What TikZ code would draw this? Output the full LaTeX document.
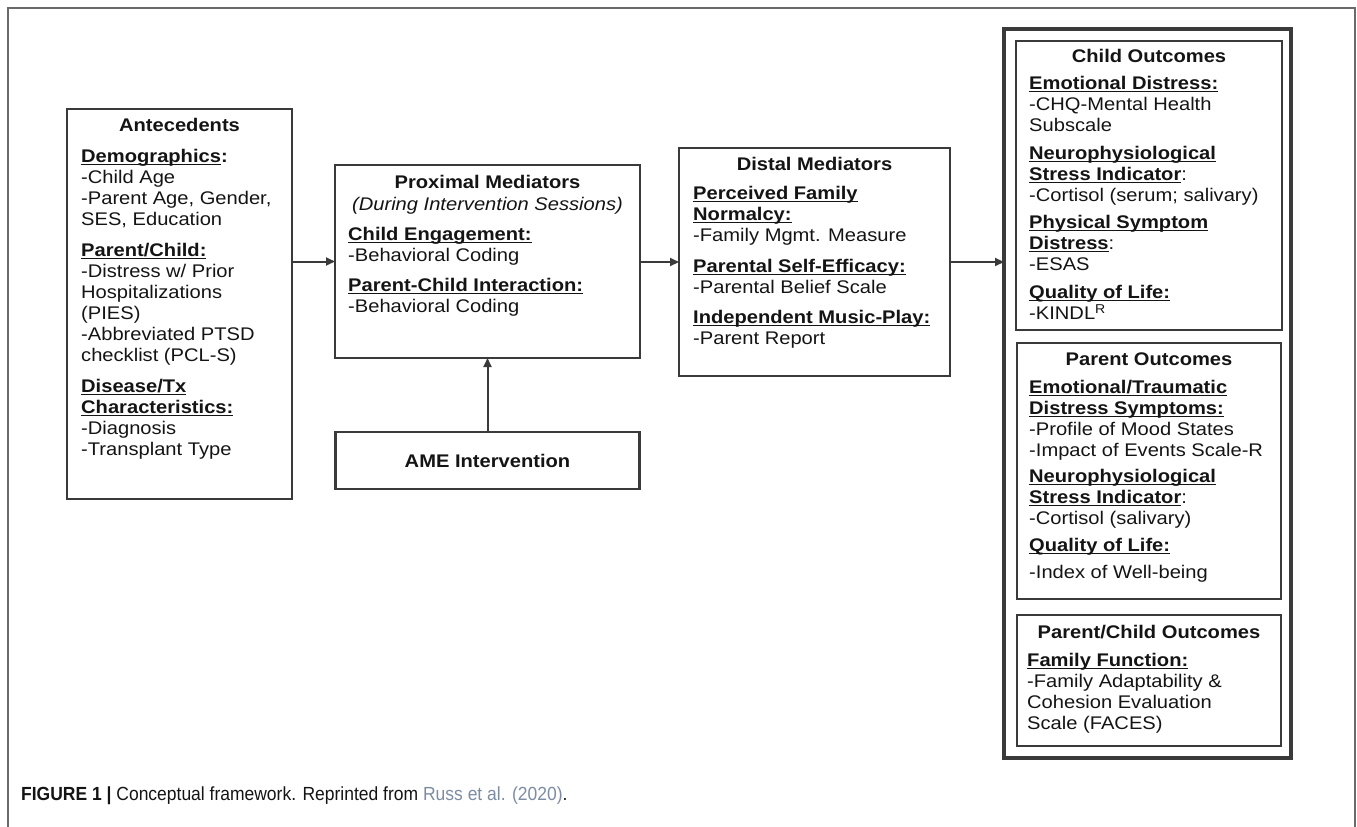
\documentclass[tikz,border=0pt]{standalone}
\usepackage{fontspec}
\setmainfont{Liberation Sans}
\newfontfamily\dfont[FakeStretch=1.1]{Liberation Sans}
\newfontfamily\capfont[FakeStretch=0.92]{Liberation Sans}
\usetikzlibrary{arrows.meta}
\definecolor{ln}{HTML}{3A3A3A}
\definecolor{tx}{HTML}{141414}
\definecolor{fr}{HTML}{6A6A6A}
\definecolor{linkc}{HTML}{7D8CA3}
\newcommand\hd[1]{\setbox0\hbox{\bfseries #1}\rlap{\color{tx}\rule[-3.4pt]{\wd0}{1.5pt}}\box0}
\newcommand\blk[1]{\begin{tabular}[t]{@{}l@{}}#1\end{tabular}}
\tikzset{
  boxst/.style={draw=ln, line width=2.6pt, inner sep=0pt, outer sep=0pt, rectangle},
  oboxst/.style={draw=ln, line width=3.6pt, inner sep=0pt, outer sep=0pt, rectangle},
  ttlst/.style={anchor=base, inner sep=0pt, text=tx, font=\dfont\bfseries\fontsize{18.3}{21}\selectfont},
  subst/.style={anchor=base, inner sep=0pt, text=tx, font=\dfont\itshape\fontsize{18.3}{21}\selectfont},
  bodyst/.style={anchor=base west, inner sep=0pt, text=tx, font=\dfont\fontsize{18.3}{21}\selectfont},
  arrst/.style={draw=ln, line width=2pt, -{Triangle[length=9pt,width=8pt]}},
  framest/.style={draw=fr, line width=1.5pt},
  capst/.style={anchor=base west, inner sep=0pt, text=tx, font=\capfont\fontsize{19}{22}\selectfont}
}
\begin{document}
\begin{tikzpicture}[x=1pt,y=-1pt]
\useasboundingbox (0,0) rectangle (1357,827);
% outer frame
\draw[framest] (8,827) -- (8,8) -- (1355,8) -- (1355,827);

% boxes
\node[boxst, minimum width=225pt, minimum height=390pt] (ante) at (179.5,304) {};
\node[boxst, minimum width=305pt, minimum height=193pt] (prox) at (487.5,261.5) {};
\node[boxst, minimum width=304pt, minimum height=57pt, text=tx, font=\dfont\bfseries\fontsize{18.3}{21}\selectfont] (ame) at (487.5,460.5) {AME Intervention};
\node[boxst, minimum width=271pt, minimum height=228pt] (dist) at (814.5,262) {};
\node[oboxst, minimum width=287pt, minimum height=729pt] (outc) at (1147.5,393.5) {};
\node[boxst, minimum width=266pt, minimum height=289pt] (child) at (1149,185.5) {};
\node[boxst, minimum width=264pt, minimum height=256pt] (par) at (1149,471) {};
\node[boxst, minimum width=264pt, minimum height=131pt] (pc) at (1149,680.5) {};

% Antecedents
\node[ttlst] (anteT) at (179.5,131) {Antecedents};
\node[bodyst] (anteB) at (81,162) {\blk{\hd{Demographics}\textbf{:}\\ -Child Age\\ -Parent Age, Gender,\\ SES, Education\\[10pt]
\hd{Parent/Child:}\\ -Distress w/ Prior\\ Hospitalizations\\ (PIES)\\ -Abbreviated PTSD\\ checklist (PCL-S)\\[10pt]
\hd{Disease/Tx}\\ \hd{Characteristics:}\\ -Diagnosis\\ -Transplant Type}};

% Proximal
\node[ttlst] (proxT) at (487.5,188) {Proximal Mediators};
\node[subst] (proxS) at (487.5,210) {(During Intervention Sessions)};
\node[bodyst] (proxB) at (348,240) {\blk{\hd{Child Engagement:}\\ -Behavioral Coding\\[9pt]
\hd{Parent-Child Interaction:}\\ -Behavioral Coding}};

% Distal
\node[ttlst] (distT) at (814.5,170) {Distal Mediators};
\node[bodyst] (distB) at (693,199) {\blk{\hd{Perceived Family}\\ \hd{Normalcy:}\\ -Family Mgmt. Measure\\[10pt]
\hd{Parental Self-Efficacy:}\\ -Parental Belief Scale\\[9pt]
\hd{Independent Music-Play:}\\ -Parent Report}};

% Child outcomes
\node[ttlst] (childT) at (1149,62) {Child Outcomes};
\node[bodyst] (childB) at (1029,89) {\blk{\hd{Emotional Distress:}\\ -CHQ-Mental Health\\ Subscale\\[7pt]
\hd{Neurophysiological}\\ \hd{Stress Indicator}:\\ -Cortisol (serum; salivary)\\[6pt]
\hd{Physical Symptom}\\ \hd{Distress}:\\ -ESAS\\[7pt]
\hd{Quality of Life:}\\ -KINDL\textsuperscript{R}}};

% Parent outcomes
\node[ttlst] (parT) at (1149,365) {Parent Outcomes};
\node[bodyst] (parB) at (1029,393) {\blk{\hd{Emotional/Traumatic}\\ \hd{Distress Symptoms:}\\ -Profile of Mood States\\ -Impact of Events Scale-R\\[5pt]
\hd{Neurophysiological}\\ \hd{Stress Indicator}:\\ -Cortisol (salivary)\\[6pt]
\hd{Quality of Life:}\\[6pt] -Index of Well-being}};

% Parent/Child outcomes
\node[ttlst] (pcT) at (1149,638) {Parent/Child Outcomes};
\node[bodyst] (pcB) at (1027,666) {\blk{\hd{Family Function:}\\ -Family Adaptability \&\\ Cohesion Evaluation\\ Scale (FACES)}};

% connectors
\draw[arrst] (ante.east |- prox.west) -- (prox.west);
\draw[arrst] (prox.east |- dist.west) -- (dist.west);
\draw[arrst] (dist.east) -- (dist.east -| outc.west);
\draw[arrst] (ame.north) -- (ame.north |- prox.south);

% caption
\node[capst] (caption) at (21,800) {\textbf{FIGURE 1 |} Conceptual framework. Reprinted from \textcolor{linkc}{Russ et al. (2020)}.};
\end{tikzpicture}
\end{document}
